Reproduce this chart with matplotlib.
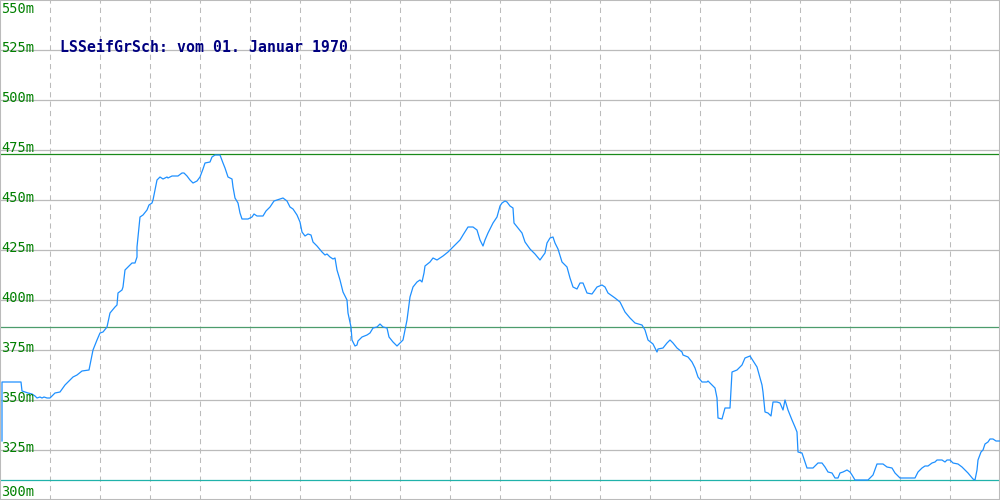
import matplotlib
matplotlib.use("Agg")
import matplotlib.pyplot as plt

# Profile position (horizontal units of the chart) and elevation in metres
position = [2, 2, 21, 22, 25, 28, 32, 35, 37, 40, 42, 44, 47, 50, 55, 60, 65, 68, 73, 77,
            82, 89, 93, 97, 100, 103, 107, 110, 115, 117, 118, 122, 123, 125, 128, 132, 135, 137, 137, 138,
            140, 143, 147, 149, 152, 153, 155, 157, 160, 163, 167, 168, 172, 178, 182, 184, 187, 190, 193, 197,
            200, 203, 205, 210, 212, 215, 220, 223, 225, 228, 232, 233, 235, 238, 240, 242, 248, 252, 254, 257,
            263, 266, 270, 274, 280, 283, 287, 290, 293, 297, 300, 302, 305, 308, 311, 313, 317, 322, 325, 327,
            330, 333, 335, 337, 340, 343, 347, 348, 351, 352, 355, 357, 358, 362, 367, 370, 373, 377, 380, 383,
            387, 389, 393, 397, 400, 403, 405, 407, 410, 413, 417, 420, 422, 424, 425, 430, 433, 437, 440, 443,
            448, 453, 460, 463, 468, 473, 477, 480, 483, 485, 488, 493, 497, 500, 502, 505, 507, 510, 513, 514,
            518, 522, 525, 530, 535, 540, 545, 547, 550, 553, 555, 558, 562, 567, 570, 573, 577, 580, 583, 587,
            592, 597, 602, 605, 608, 615, 620, 625, 630, 635, 642, 645, 648, 653, 657, 658, 663, 667, 670, 673,
            677, 682, 683, 688, 692, 695, 698, 702, 707, 708, 712, 715, 717, 718, 722, 725, 730, 732, 737, 742,
            745, 750, 757, 762, 763, 765, 768, 771, 773, 777, 780, 783, 785, 788, 792, 795, 797, 798, 802, 805,
            807, 813, 818, 822, 825, 828, 832, 835, 838, 840, 843, 847, 850, 852, 855, 868, 873, 877, 883, 887,
            892, 895, 900, 915, 918, 922, 925, 928, 932, 935, 937, 942, 945, 947, 950, 953, 958, 962, 965, 968,
            973, 975, 977, 978, 981, 983, 985, 988, 990, 993, 996, 1000]
elevation = [329.5, 359, 359, 354.5, 354, 353.5, 353, 352, 351, 351.5, 351, 351.5, 351, 351, 353.5, 354, 357.5, 359, 361.5, 362.5,
             364.5, 365, 375, 380, 383.5, 384, 386.5, 393.5, 396.5, 397.5, 403.5, 405, 406.5, 415, 416.5, 418.5, 418.5, 421.5, 426.5, 431.5,
             441.5, 442.5, 445, 447.5, 448.5, 450, 455, 460, 461.5, 460.5, 461.5, 461, 462, 462, 463.5, 463.5, 462, 460, 458.5, 459.5,
             461.5, 465.5, 468.5, 469, 471.5, 472.5, 472.5, 468.5, 466, 461.5, 460.5, 456.5, 451, 448.5, 443.5, 440.5, 440.5, 441.5, 443, 442,
             442, 444.5, 446.5, 449.5, 450.5, 451, 449.5, 446.5, 445.5, 442.5, 439, 434, 432, 433, 432.5, 429, 427, 424, 422.5, 423,
             421.5, 420.5, 421, 415, 410, 404, 400, 393.5, 386.5, 380, 377, 377.5, 379.5, 381.5, 382.5, 383.5, 386, 386.5, 388, 386.5,
             386, 381.5, 379, 377, 378.5, 380, 385, 390, 401.5, 406.5, 409, 410, 409, 413.5, 417, 419, 421, 420, 421, 422,
             424, 426.5, 430, 432.5, 436.5, 436.5, 435, 430, 427, 430, 433.5, 438.5, 441.5, 447, 448.5, 449.5, 449, 447, 446, 438.5,
             436, 433.5, 429, 425.5, 423, 420, 423.5, 428.5, 431, 431.5, 428.5, 425.5, 419, 416.5, 411, 406.5, 405.5, 408.5, 408.5, 403.5,
             403, 406.5, 407.5, 406.5, 403.5, 401, 399, 394, 391, 388.5, 387.5, 385, 380, 378, 374, 375.5, 376, 378.5, 380, 378.5,
             376, 374, 372.5, 371.5, 369, 366, 361.5, 359, 359, 359.5, 357.5, 356, 351, 341, 340.5, 346, 346, 364, 365, 367.5,
             371, 372, 366.5, 357.5, 354, 344, 343.5, 342, 349, 349, 348.5, 345, 350, 345, 340, 336.5, 334, 324, 323.5, 319,
             316, 316, 318.5, 318.5, 316.5, 314, 313.5, 311, 311, 313.5, 314, 315, 314, 312.5, 310, 310, 312.5, 318, 318, 316.5,
             316, 313.5, 311, 311, 314, 316, 317, 317, 318.5, 319, 320, 320, 319, 320, 320, 318.5, 318, 316.5, 315, 313.5,
             310.5, 310, 315, 320, 324, 325, 328, 329, 330.5, 330.5, 329.5, 329.5]

y_ticks = [300, 325, 350, 375, 400, 425, 450, 475, 500, 525, 550]
y_tick_labels = ["300m", "325m", "350m", "375m", "400m", "425m", "450m", "475m", "500m", "525m", "550m"]
x_grid = [50, 100, 150, 200, 250, 300, 350, 400, 450, 500, 550, 600, 650, 700, 750, 800, 850, 900, 950]
max_elev = 473.0
mean_elev = 386.7
min_elev = 310.0
title = "LSSeifGrSch: vom 01. Januar 1970"

fig = plt.figure(figsize=(10, 5), dpi=100)
ax = fig.add_axes([0, 0, 1, 1])
ax.set_xlim(0, 1000)
ax.set_ylim(300, 550)
ax.set_xticks([])
ax.set_yticks([])
for s in ax.spines.values():
    s.set_color("#bbbbbb")
    s.set_linewidth(1.5)

for yv in y_ticks[1:-1]:
    ax.axhline(yv, color="#bbbbbb", lw=0.9, zorder=1)
for xv in x_grid:
    ax.axvline(xv, color="#bbbbbb", lw=0.75, dashes=(5, 4), zorder=1)

ax.axhline(max_elev, color="#1a8a1a", lw=0.9, zorder=2)
ax.axhline(mean_elev, color="#4c9c6c", lw=0.9, zorder=2)
ax.axhline(min_elev, color="#20b2aa", lw=0.9, zorder=2)

ax.plot(position, elevation, color="#1e90ff", lw=0.9, zorder=3)

for yv, lab in zip(y_ticks, y_tick_labels):
    if yv == 550:
        ax.text(1, yv - 1.0, lab, va="top", ha="left", color="#008000",
                family="DejaVu Sans Mono", fontsize=9.8, zorder=4)
    elif yv == 300:
        ax.text(1, yv + 0.6, lab, va="bottom", ha="left", color="#008000",
                family="DejaVu Sans Mono", fontsize=9.8, zorder=4)
    else:
        ax.text(1, yv + 1.0, lab, va="center", ha="left", color="#008000",
                family="DejaVu Sans Mono", fontsize=9.8, zorder=4)

ax.text(60, 526, title, va="center", ha="left", color="#000080",
        family="DejaVu Sans Mono", fontsize=10.7, fontweight="bold", zorder=4)

fig.savefig("out.png", dpi=100)
